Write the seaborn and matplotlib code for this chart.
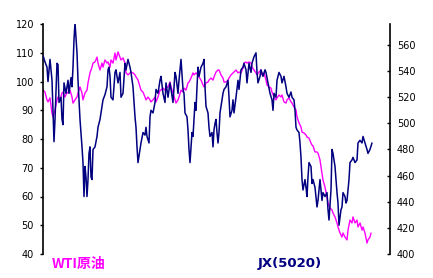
import matplotlib
matplotlib.use("Agg")
import matplotlib.pyplot as plt
import seaborn as sns
import pandas as pd

# ---- data (time index = sample day, values) ----
jx_days = [0, 2, 4, 5, 7, 9, 10, 11, 12, 14, 15, 16, 18, 19, 20, 21, 23, 25, 26, 28, 29, 30, 31, 32,
           34, 35, 37, 39, 40, 41, 42, 43, 44, 45, 46, 47, 48, 49, 50, 52, 54, 55, 57, 59, 60, 62, 64,
           65, 66, 67, 68, 70, 72, 73, 75, 77, 78, 80, 82, 83, 85, 87, 88, 90, 92, 93, 94, 95, 97, 98,
           100, 102, 103, 104, 106, 107, 108, 110, 112, 113, 115, 117, 118, 120, 122, 123, 125, 127,
           128, 130, 132, 133, 135, 136, 138, 140, 141, 142, 144, 145, 146, 147, 148, 149, 150, 151,
           152, 153, 154, 155, 156, 158, 160, 161, 162, 163, 165, 166, 167, 169, 170, 171, 172, 173,
           174, 175, 176, 177, 178, 180, 181, 183, 185, 186, 187, 189, 190, 191, 193, 195, 196, 198,
           200, 201, 203, 204, 206, 208, 209, 211, 213, 214, 215, 217, 218, 220, 222, 223, 225, 227,
           229, 230, 231, 233, 234, 236, 238, 239, 241, 243, 244, 246, 248, 249, 251, 252, 253, 254,
           256, 257, 258, 259, 260, 262, 263, 264, 265, 266, 268, 269, 270, 272, 274, 275, 277, 279,
           280, 282, 284, 285, 286, 288, 289, 290, 291, 292, 294, 295, 296, 298, 299, 300, 302, 303,
           304, 306, 307, 309, 310, 312, 314, 315, 317, 319, 320, 322, 324, 325, 327, 329]
jx_price = [552, 547, 543, 532, 549, 533, 510, 486, 503, 546, 545, 516, 520, 503, 499, 531, 523, 533,
            523, 535, 528, 543, 564, 577, 554, 533, 503, 482, 470, 444, 467, 459, 444, 457, 477, 482,
            459, 457, 480, 482, 490, 497, 503, 513, 518, 522, 528, 541, 543, 536, 520, 518, 539, 541,
            531, 539, 520, 523, 546, 541, 549, 543, 539, 528, 505, 497, 482, 470, 480, 485, 493, 491,
            497, 490, 485, 505, 510, 508, 516, 526, 523, 533, 536, 523, 516, 531, 520, 531, 526, 516,
            539, 536, 523, 533, 549, 526, 523, 508, 505, 495, 480, 470, 482, 493, 490, 503, 516, 510,
            528, 543, 536, 543, 546, 549, 528, 513, 508, 497, 490, 493, 482, 495, 500, 503, 493, 485,
            493, 508, 513, 523, 526, 528, 533, 520, 505, 510, 518, 508, 520, 533, 526, 541, 543, 546,
            541, 531, 546, 539, 546, 551, 554, 539, 531, 536, 541, 536, 541, 539, 531, 523, 518, 510,
            523, 520, 533, 539, 536, 531, 536, 528, 523, 520, 524, 520, 518, 510, 497, 495, 493, 485,
            474, 457, 449, 457, 451, 444, 459, 470, 467, 454, 457, 451, 436, 441, 457, 441, 447, 444,
            447, 434, 426, 449, 480, 477, 472, 467, 447, 439, 422, 434, 436, 447, 444, 439, 441, 457,
            470, 472, 474, 470, 472, 485, 487, 485, 490, 485, 480, 477, 480, 485]

wti_days = [0, 2, 4, 5, 7, 9, 10, 12, 14, 15, 17, 19, 20, 22, 24, 25, 27, 29, 30, 32, 34, 35, 37, 39,
            40, 42, 44, 45, 47, 49, 50, 52, 54, 55, 57, 59, 60, 62, 64, 65, 67, 68, 70, 72, 73, 75, 77,
            78, 80, 82, 83, 85, 87, 88, 90, 92, 93, 95, 97, 98, 100, 102, 103, 105, 107, 108, 110, 112,
            113, 115, 117, 118, 120, 122, 123, 125, 127, 128, 130, 132, 133, 135, 136, 138, 140, 141,
            143, 145, 146, 148, 150, 151, 153, 155, 156, 158, 160, 161, 163, 165, 166, 168, 170, 171,
            173, 175, 176, 178, 180, 181, 183, 185, 186, 188, 190, 191, 193, 195, 196, 198, 200, 201,
            203, 204, 206, 208, 209, 211, 213, 214, 216, 218, 219, 221, 223, 224, 226, 228, 229, 231,
            233, 234, 236, 238, 239, 241, 243, 244, 246, 248, 249, 251, 253, 254, 256, 258, 259, 261,
            263, 264, 266, 268, 269, 270, 272, 274, 275, 277, 279, 280, 282, 284, 285, 287, 289, 290,
            292, 294, 295, 297, 299, 300, 302, 304, 305, 307, 309, 310, 312, 314, 315, 317, 319, 320,
            322, 324, 325, 327, 328]
wti_price = [97.0, 96.3, 93.6, 92.9, 94.3, 89.0, 87.7, 90.1, 93.6, 94.6, 93.6, 96.0, 96.3, 94.6, 96.3,
             96.0, 97.0, 94.6, 92.5, 93.6, 94.6, 96.0, 98.1, 96.0, 93.6, 96.0, 97.0, 99.5, 103.0,
             105.0, 106.4, 106.8, 108.5, 106.4, 104.0, 106.4, 105.0, 107.5, 106.4, 106.8, 105.0,
             107.5, 106.4, 109.9, 107.5, 110.3, 108.5, 107.5, 108.2, 106.4, 103.0, 102.3, 103.0,
             103.3, 103.0, 102.3, 101.6, 100.5, 98.1, 97.0, 96.3, 94.6, 93.6, 94.6, 93.6, 92.9, 93.6,
             94.6, 92.9, 94.6, 97.0, 97.0, 97.7, 97.0, 97.7, 98.1, 99.8, 98.1, 96.0, 93.6, 92.5, 93.6,
             94.6, 97.0, 96.3, 97.7, 97.0, 99.5, 99.8, 101.2, 103.0, 102.3, 103.0, 102.3, 101.6, 100.5,
             98.8, 98.1, 99.5, 99.8, 100.5, 101.2, 100.5, 101.6, 103.3, 104.0, 104.0, 102.3, 101.2,
             99.8, 99.8, 100.5, 101.2, 102.3, 103.0, 103.3, 104.0, 103.0, 103.3, 103.0, 104.7, 106.4,
             106.8, 106.4, 106.8, 106.4, 105.0, 104.0, 103.0, 102.3, 103.3, 104.0, 102.3, 103.0, 100.5,
             98.8, 98.1, 97.7, 96.3, 94.6, 93.6, 94.3, 95.3, 94.6, 95.3, 92.9, 92.5, 93.6, 94.3, 92.9,
             92.5, 91.1, 90.1, 87.7, 85.6, 84.2, 82.4, 82.1, 81.4, 80.7, 80.3, 78.6, 77.9, 77.6, 75.5,
             75.5, 75.1, 72.7, 68.2, 65.7, 63.3, 59.8, 57.7, 56.0, 55.3, 54.3, 52.9, 50.8, 49.4, 47.3,
             45.9, 47.3, 45.9, 44.9, 48.3, 51.8, 50.8, 52.9, 50.8, 51.8, 49.4, 50.8, 48.3, 49.4, 47.3,
             43.8, 44.9, 45.9, 47.3]

left_ticks = [40, 50, 60, 70, 80, 90, 100, 110, 120]
right_ticks = [400, 420, 440, 460, 480, 500, 520, 540, 560]
wti_label = "WTI原油"
jx_label = "JX(5020)"

WTI_COLOR = "#FF00FF"
JX_COLOR = "#000080"

sns.set_style("white")
plt.rcParams["font.family"] = ["DejaVu Sans", "Noto Sans CJK JP"]

fig = plt.figure(figsize=(4.33, 2.78), dpi=100)
ax = fig.add_axes([43 / 433, 24 / 278, (390 - 43) / 433, 230 / 278])
ax2 = ax.twinx()

n_w = min(len(wti_days), len(wti_price))
n_j = min(len(jx_days), len(jx_price))
wti_df = pd.DataFrame({"day": wti_days[:n_w], "price": wti_price[:n_w]})
jx_df = pd.DataFrame({"day": jx_days[:n_j], "price": jx_price[:n_j]})

sns.lineplot(data=wti_df, x="day", y="price", ax=ax, color=WTI_COLOR, lw=1.0, zorder=2)
sns.lineplot(data=jx_df, x="day", y="price", ax=ax2, color=JX_COLOR, lw=1.1, zorder=3)

ax.set_xlim(0, 347)
ax.set_ylim(40, 120)
ax2.set_ylim(400, 400 + 230 * 160 / 209)

ax.set_yticks(left_ticks)
ax2.set_yticks(right_ticks)
ax.set_xticks([])
ax.set_xlabel("")
ax.set_ylabel("")
ax2.set_ylabel("")

for a in (ax, ax2):
    for s in ("top", "bottom"):
        a.spines[s].set_visible(False)
    a.set_facecolor("none")
ax.spines["right"].set_visible(False)
ax2.spines["left"].set_visible(False)
ax.spines["left"].set_color("black")
ax.spines["left"].set_linewidth(1.2)
ax2.spines["right"].set_color("black")
ax2.spines["right"].set_linewidth(1.2)

ax.tick_params(axis="y", direction="out", length=2.5, width=1.0, pad=4,
               labelsize=7, colors="black", left=True)
ax2.tick_params(axis="y", direction="in", length=2.5, width=1.0, pad=5,
                labelsize=7, colors="black", right=True)

fig.text(52 / 433, (278 - 264) / 278, wti_label, color=WTI_COLOR, fontsize=10,
         fontweight="bold", va="center", ha="left",
         family=["Noto Sans CJK JP", "DejaVu Sans"])
fig.text(258 / 433, (278 - 264) / 278, jx_label, color=JX_COLOR, fontsize=9.5,
         fontweight="bold", va="center", ha="left",
         family=["DejaVu Sans", "Noto Sans CJK JP"])

fig.savefig("out.png", dpi=100)
